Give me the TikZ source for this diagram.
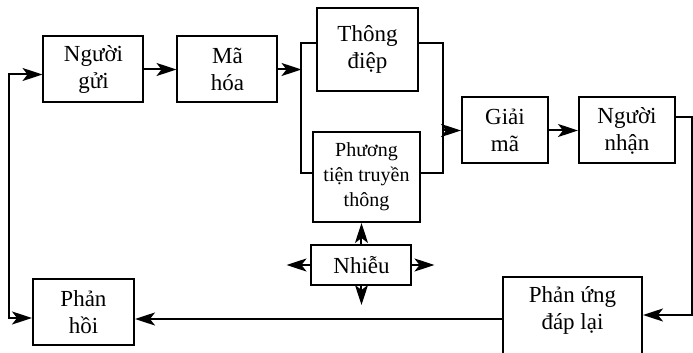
\documentclass[tikz,border=0pt]{standalone}
\usepackage{fontspec}
\setmainfont{Liberation Serif}
\usetikzlibrary{arrows.meta, positioning}

\begin{document}
\begin{tikzpicture}[
    x=0.5pt, y=-0.5pt,
    box/.style={rectangle, draw, line width=1pt, minimum width=50pt,
                minimum height=33pt, align=center, inner sep=2pt,
                font=\fontsize{11.5}{13.5}\selectfont},
    arr/.style={-{Stealth[length=10pt, width=6.5pt, inset=2.5pt]}, line width=1pt},
    twoarr/.style={{Stealth[length=10pt, width=6.5pt, inset=2.5pt]}-{Stealth[length=10pt, width=6.5pt, inset=2.5pt]}, line width=1pt},
    link/.style={line width=1pt}
]
\useasboundingbox (0,0) rectangle (693,353);

% Sender side
\node[box] (nguoigui) at (93.5,69.5) {Người\\gửi};
\node[box, right=16pt of nguoigui] (mahoa) {Mã\\hóa};

% Message and channel
\node[box, minimum width=50.5pt, minimum height=41.5pt] (thongdiep) at (367.5,49.5) {Thông\\điệp};
\node[box, minimum width=53.5pt, minimum height=45pt,
      font=\fontsize{10}{12.5}\selectfont] (kenh) at (366.5,177) {Phương\\tiện truyền\\thông};
\node[box, minimum height=20pt, below=10.5pt of kenh, xshift=-2.5pt] (nhieu) {Nhiễu};

% Receiver side
\node[box, minimum width=43pt] (giaima) at (505,130.5) {Giải\\mã};
\node[box, minimum width=48pt, right=14.5pt of giaima] (nguoinhan) {Người\\nhận};

% Feedback row
\node[box, minimum width=69.5pt, minimum height=45pt] (phanung) at (572.5,322) {Phản ứng\\đáp lại\\\mbox{}};
\node[box, minimum width=50.5pt] (phanhoi) at (83.5,312) {Phản\\hồi};

% Helper points
\coordinate[right=11.5pt of mahoa] (tach);
\coordinate[left=9pt of giaima] (hop);
\coordinate (goc) at (692,315);
\coordinate (fb) at ([yshift=1.5pt]phanung.west);
\coordinate[left=12pt of nhieu] (nhieutrai);
\coordinate[right=11pt of nhieu] (nhieuphai);
\coordinate[below=9.5pt of nhieu] (nhieuduoi);

% Forward path
\draw[arr] (nguoigui) -- (mahoa);
\draw[arr] (mahoa) -- (tach);
\draw[link] ([yshift=3pt]thongdiep.west) -| (tach) |- ([yshift=2pt]kenh.west);
\draw[link] ([yshift=3pt]thongdiep.east) -| (hop) |- ([yshift=2pt]kenh.east);
\draw[arr] (hop) -- (giaima);
\draw[arr] (giaima) -- (nguoinhan);

% Response and feedback
\draw[arr] ([yshift=6.5pt]nguoinhan.east) -| (goc) -- (goc -| phanung.east);
\draw[arr] (fb) -- (fb -| phanhoi.east);
\draw[twoarr] ([yshift=-2.5pt]nguoigui.west) -- ++(-34,0) |- ([yshift=-3pt]phanhoi.west);

% Noise
\draw[arr] (nhieu.north) -- (nhieu.north |- kenh.south);
\draw[arr] (nhieu.west) -- (nhieutrai);
\draw[arr] (nhieu.east) -- (nhieuphai);
\draw[arr] (nhieu.south) -- (nhieuduoi);
\end{tikzpicture}
\end{document}
